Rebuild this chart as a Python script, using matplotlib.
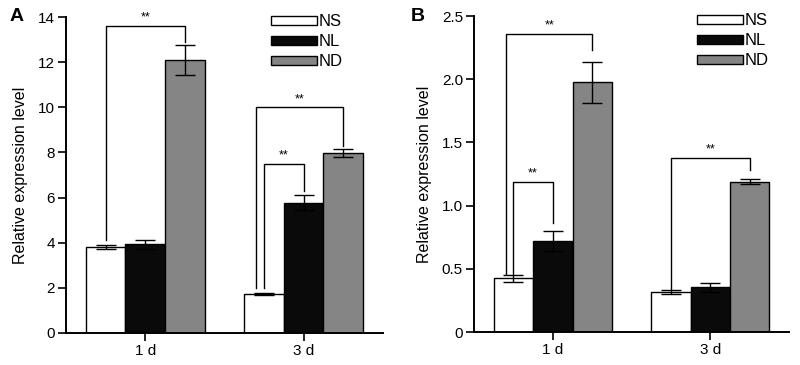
import numpy as np
import matplotlib.pyplot as plt
from matplotlib.patches import Patch

plt.rcParams['font.family'] = ['Liberation Sans', 'DejaVu Sans']

# ------------------------
# Dados
# ------------------------
groups = ['1 d', '3 d']
series = ['NS', 'NL', 'ND']
colors = ['white', '#0a0a0a', '#858585']

a_ns = [3.80, 1.73]
a_ns_err = [0.10, 0.06]
a_nl = [3.92, 5.78]
a_nl_err = [0.20, 0.32]
a_nd = [12.10, 7.98]
a_nd_err = [0.65, 0.18]

b_ns = [0.425, 0.32]
b_ns_err = [0.025, 0.015]
b_nl = [0.72, 0.355]
b_nl_err = [0.08, 0.035]
b_nd = [1.975, 1.19]
b_nd_err = [0.165, 0.02]

# colchetes de significância: (grupo, barra esq, barra dir, base esq, base dir, topo, desloc. x)
a_brackets = [(0, 0, 2, 4.1, 12.9, 13.6, 0.0),
              (1, 0, 2, 2.0, 8.3, 10.0, -0.05),
              (1, 0, 1, 2.0, 6.3, 7.5, 0.0)]
b_brackets = [(0, 0, 2, 0.46, 2.23, 2.36, -0.045),
              (0, 0, 1, 0.46, 0.86, 1.19, 0.0),
              (1, 0, 2, 0.34, 1.28, 1.38, 0.0)]

width = 0.25
offsets = [-width, 0.0, width]


def draw_panel(ax, vals, errs, brackets, ymax, yticks, yticklabels, star_off, leg_x):
    x = np.arange(len(groups))
    for i in range(3):
        ax.bar(x + offsets[i], vals[i], width, color=colors[i], edgecolor='black',
               linewidth=1.0, label=series[i], zorder=2)
        ax.errorbar(x + offsets[i], vals[i], yerr=errs[i], fmt='none', ecolor='black',
                    elinewidth=1.0, capsize=7, capthick=1.0, zorder=3)
    for g, i0, i1, y0, y1, top, dx in brackets:
        xl = x[g] + offsets[i0] + dx
        xr = x[g] + offsets[i1]
        ax.plot([xl, xl, xr, xr], [y0, top, top, y1], color='black', lw=1.0, zorder=4)
        ax.text((xl + xr) / 2, top + star_off, '**', ha='center', va='bottom', fontsize=9)
    ax.set_xlim(-0.5, 1.5)
    ax.set_ylim(0, ymax)
    ax.set_xticks(x)
    ax.set_xticklabels(groups, fontsize=11)
    ax.set_yticks(yticks)
    ax.set_yticklabels(yticklabels, fontsize=11)
    ax.set_ylabel('Relative expression level', fontsize=11.5, labelpad=7)
    for s in ['top', 'right']:
        ax.spines[s].set_visible(False)
    for s in ['left', 'bottom']:
        ax.spines[s].set_linewidth(1.4)
    ax.tick_params(axis='both', direction='out', length=6, width=1.2, pad=2)
    handles = [Patch(facecolor=c, edgecolor='black', linewidth=1.0) for c in colors]
    ax.legend(handles, series, loc='upper right', bbox_to_anchor=(leg_x, 1.03),
              frameon=False, fontsize=12, handlelength=2.75, handleheight=0.45,
              handletextpad=0.1, labelspacing=0.3, borderaxespad=0)


fig = plt.figure(figsize=(8, 3.65), dpi=100)
axA = fig.add_axes([0.0825, 0.088, 0.396, 0.865])
axB = fig.add_axes([0.5925, 0.090, 0.394, 0.866])

draw_panel(axA, [a_ns, a_nl, a_nd], [a_ns_err, a_nl_err, a_nd_err], a_brackets,
           14, [0, 2, 4, 6, 8, 10, 12, 14], ['0', '2', '4', '6', '8', '10', '12', '14'],
           0.1, 0.895)
draw_panel(axB, [b_ns, b_nl, b_nd], [b_ns_err, b_nl_err, b_nd_err], b_brackets,
           2.5, [0, 0.5, 1.0, 1.5, 2.0, 2.5], ['0', '0.5', '1.0', '1.5', '2.0', '2.5'],
           0.02, 0.955)

fig.text(0.012, 0.955, 'A', fontsize=14, fontweight='bold', va='center')
fig.text(0.514, 0.955, 'B', fontsize=14, fontweight='bold', va='center')

fig.savefig('out.png', dpi=100)
